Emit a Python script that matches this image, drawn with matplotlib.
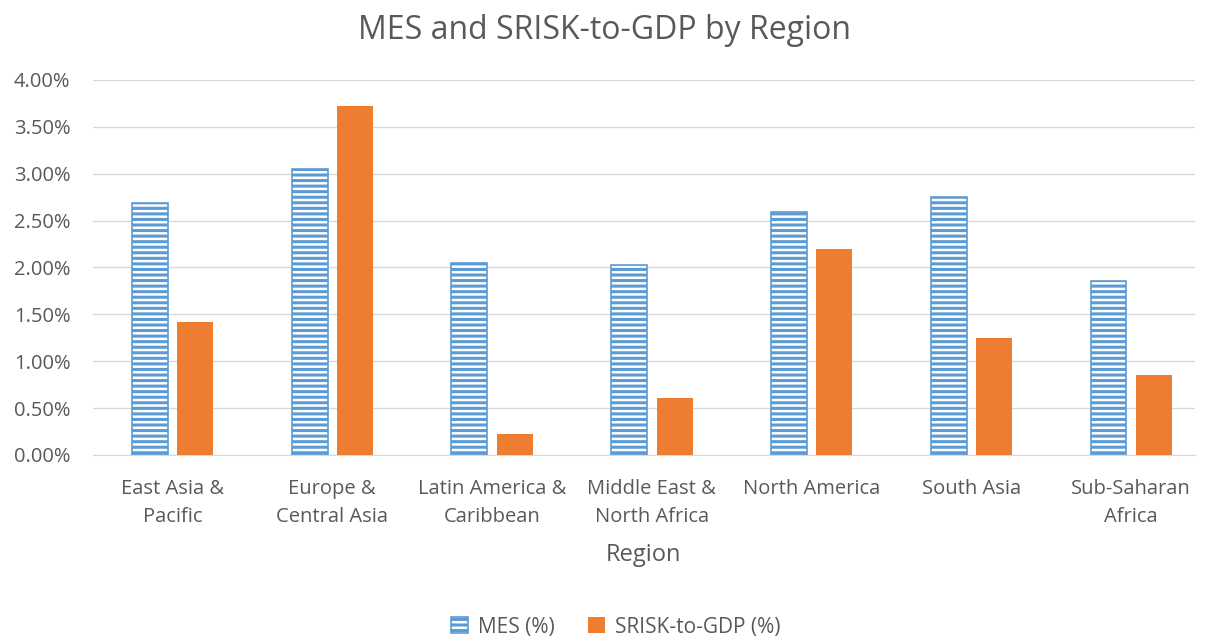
import matplotlib.pyplot as plt
import numpy as np
from matplotlib.ticker import FuncFormatter

regions = [
    "East Asia &\nPacific",
    "Europe &\nCentral Asia",
    "Latin America &\nCaribbean",
    "Middle East &\nNorth Africa",
    "North America",
    "South Asia",
    "Sub-Saharan\nAfrica",
]
mes = [2.69, 3.05, 2.05, 2.03, 2.59, 2.75, 1.86]
srisk_to_gdp = [1.42, 3.72, 0.22, 0.61, 2.20, 1.25, 0.85]

BLUE = "#5B9BD5"
ORANGE = "#ED7D31"
TEXT = "#595959"

plt.rcParams["font.family"] = ["Open Sans", "DejaVu Sans"]
plt.rcParams["hatch.linewidth"] = 2.2
plt.rcParams["hatch.color"] = BLUE

figure = plt.figure(figsize=(12.08, 6.39), dpi=100)
axes = figure.add_axes((0.0767, 0.288, 0.9126, 0.587))

x = np.arange(len(regions))
width = 0.225
offset = 0.142

axes.bar(x - offset, mes, width, facecolor="white", edgecolor=BLUE,
         hatch="---", linewidth=1.2, label="MES (%)", zorder=3)
axes.bar(x + offset, srisk_to_gdp, width, color=ORANGE,
         label="SRISK-to-GDP (%)", zorder=3)

# the reference plot area runs a bit past the last category
axes.set_xlim(-0.5, len(regions) - 0.6)
axes.set_ylim(0, 4.0)
axes.set_yticks(np.arange(0, 4.01, 0.5))
axes.yaxis.set_major_formatter(FuncFormatter(lambda v, _: f"{v:.2f}%"))
axes.set_xticks(x)
axes.set_xticklabels(regions, linespacing=1.55)

axes.grid(axis="y", color="#D9D9D9", linewidth=1, zorder=0)
axes.set_axisbelow(True)
for side in ["top", "right", "left"]:
    axes.spines[side].set_visible(False)
axes.spines["bottom"].set_color("#D9D9D9")
axes.tick_params(axis="both", length=0, labelsize=14.5, colors=TEXT)
axes.tick_params(axis="x", pad=17)
axes.tick_params(axis="y", pad=16)

axes.set_xlabel("Region", fontsize=17, color=TEXT)
axes.xaxis.set_label_coords(0.5, -0.236)
figure.suptitle("MES and SRISK-to-GDP by Region", fontsize=23, color=TEXT, y=0.978)

legend = figure.legend(loc="lower center", bbox_to_anchor=(0.51, -0.027), ncol=2,
                       frameon=False, fontsize=15, handlelength=0.8,
                       handleheight=0.8, handletextpad=0.5, columnspacing=1.6)
for t in legend.get_texts():
    t.set_color(TEXT)

figure.savefig("out.png", dpi=100)
